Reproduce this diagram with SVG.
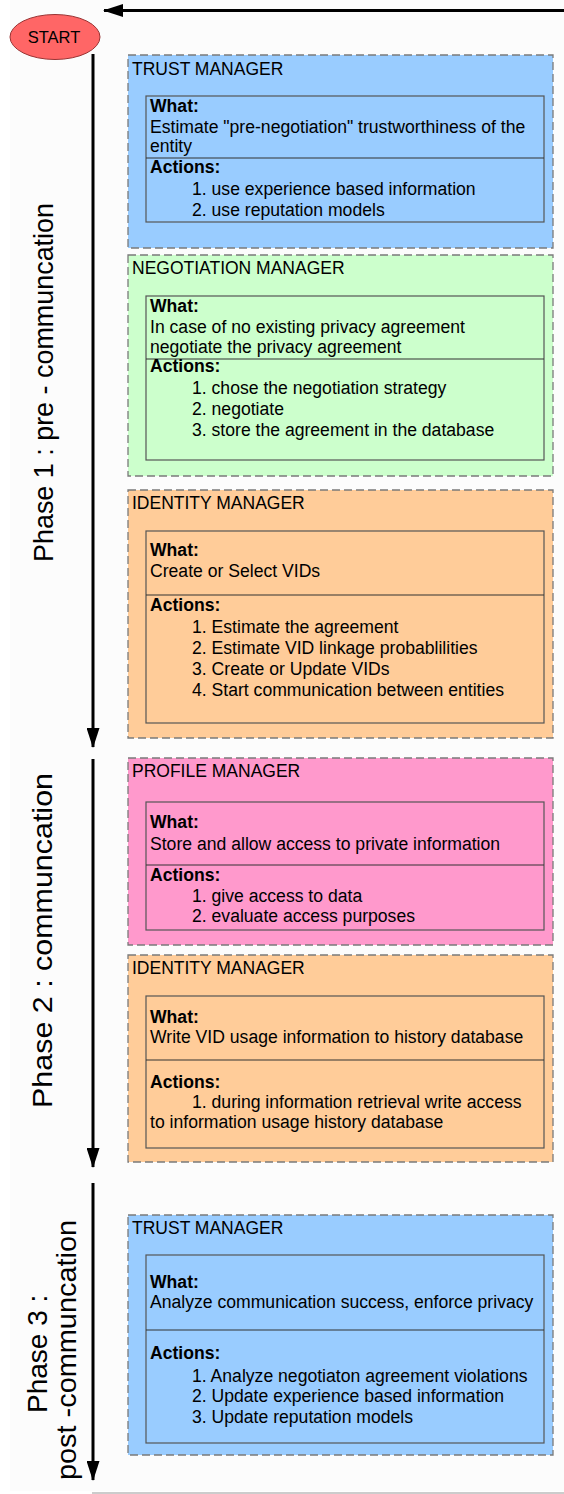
<svg xmlns="http://www.w3.org/2000/svg" width="564" height="1494" viewBox="0 0 564 1494">
  <style>
    .outer { stroke: #7a7a7a; stroke-width: 1.3; stroke-dasharray: 8 4; }
    .inner { fill: none; stroke: #555; stroke-width: 1.2; }
    .div { stroke: #333; stroke-width: 1.2; }
    .trust { fill: #99ccff; }
    .nego { fill: #ccffcc; }
    .ident { fill: #ffcc99; }
    .prof { fill: #ff99cc; }
    text { font-family: "Liberation Sans", Arial, sans-serif; fill: #000; }
    .title { font-size: 17.5px; }
    .body { font-size: 17.6px; }
    .bold { font-size: 17.6px; font-weight: bold; }
    .phase { font-size: 28px; }
    .conn { stroke: #000; stroke-width: 3; fill: none; }
  </style>
  <defs>
    <marker id="head" markerUnits="userSpaceOnUse" markerWidth="20" markerHeight="13" refX="19" refY="6.5" orient="auto">
      <path d="M0,0 L20,6.5 L0,13 z" fill="#000"/>
    </marker>
  </defs>

  <!-- page background -->
  <rect x="0" y="0" width="564" height="1494" fill="#ffffff"/>
  <rect x="10" y="0" width="554" height="1491" fill="#fcfcfc"/>
  <line x1="92" y1="1493" x2="564" y2="1493" stroke="#bbbbbb" stroke-width="1.5"/>

  <!-- flow connectors -->
  <g id="connectors">
    <line class="conn" x1="564" y1="10.5" x2="104" y2="10.5" marker-end="url(#head)"/>
    <line class="conn" x1="93" y1="54" x2="93" y2="747" marker-end="url(#head)"/>
    <line class="conn" x1="93" y1="759" x2="93" y2="1167" marker-end="url(#head)"/>
    <line class="conn" x1="93" y1="1183" x2="93" y2="1480" marker-end="url(#head)"/>
  </g>

  <!-- start node -->
  <g id="start">
    <ellipse cx="55" cy="37" rx="45" ry="22.5" fill="#ff6666" stroke="#993333" stroke-width="1"/>
    <text x="54" y="43" text-anchor="middle" style="font-size:16.5px">START</text>
  </g>

  <!-- phase labels -->
  <g id="phase1-label">
    <text class="phase" transform="translate(53,562) rotate(-90)" textLength="359" lengthAdjust="spacingAndGlyphs">Phase 1 : pre - communcation</text>
  </g>
  <g id="phase2-label">
    <text class="phase" transform="translate(52,1108) rotate(-90)" textLength="335" lengthAdjust="spacingAndGlyphs">Phase 2 : communcation</text>
  </g>
  <g id="phase3-label">
    <text class="phase" transform="translate(47,1413) rotate(-90)">Phase 3 :</text>
    <text class="phase" transform="translate(76,1480) rotate(-90)" textLength="260" lengthAdjust="spacingAndGlyphs">post -communcation</text>
  </g>

  <!-- phase 1: trust manager -->
  <g id="trust-manager-1">
    <rect class="outer trust" x="128" y="55" width="425" height="193"/>
    <text class="title" x="132" y="75">TRUST MANAGER</text>
    <rect class="inner" x="146" y="96" width="398" height="126"/>
    <line class="div" x1="146" y1="158" x2="544" y2="158"/>
    <text class="bold" x="150" y="112">What:</text>
    <text class="body" x="150" y="133">Estimate "pre-negotiation" trustworthiness of the</text>
    <text class="body" x="150" y="152">entity</text>
    <text class="bold" x="150" y="173">Actions:</text>
    <text class="body" x="192" y="195">1. use experience based information</text>
    <text class="body" x="192" y="216">2. use reputation models</text>
  </g>

  <!-- phase 1: negotiation manager -->
  <g id="negotiation-manager">
    <rect class="outer nego" x="128" y="255" width="425" height="221"/>
    <text class="title" x="132" y="274">NEGOTIATION MANAGER</text>
    <rect class="inner" x="146" y="296" width="398" height="164"/>
    <line class="div" x1="146" y1="359" x2="544" y2="359"/>
    <text class="bold" x="150" y="312">What:</text>
    <text class="body" x="150" y="333">In case of no existing privacy agreement</text>
    <text class="body" x="150" y="353">negotiate the privacy agreement</text>
    <text class="bold" x="150" y="372">Actions:</text>
    <text class="body" x="192" y="394">1. chose the negotiation strategy</text>
    <text class="body" x="192" y="415">2. negotiate</text>
    <text class="body" x="192" y="436">3. store the agreement in the database</text>
  </g>

  <!-- phase 1: identity manager -->
  <g id="identity-manager-1">
    <rect class="outer ident" x="128" y="490" width="425" height="248"/>
    <text class="title" x="132" y="509">IDENTITY MANAGER</text>
    <rect class="inner" x="146" y="531" width="398" height="192"/>
    <line class="div" x1="146" y1="595" x2="544" y2="595"/>
    <text class="bold" x="150" y="556">What:</text>
    <text class="body" x="150" y="577">Create or Select VIDs</text>
    <text class="bold" x="150" y="611">Actions:</text>
    <text class="body" x="192" y="633">1. Estimate the agreement</text>
    <text class="body" x="192" y="654">2. Estimate VID linkage probablilities</text>
    <text class="body" x="192" y="675">3. Create or Update VIDs</text>
    <text class="body" x="192" y="696">4. Start communication between entities</text>
  </g>

  <!-- phase 2: profile manager -->
  <g id="profile-manager">
    <rect class="outer prof" x="128" y="758" width="425" height="187"/>
    <text class="title" x="132" y="777">PROFILE MANAGER</text>
    <rect class="inner" x="146" y="802" width="398" height="128"/>
    <line class="div" x1="146" y1="865" x2="544" y2="865"/>
    <text class="bold" x="150" y="828">What:</text>
    <text class="body" x="150" y="850">Store and allow access to private information</text>
    <text class="bold" x="150" y="881">Actions:</text>
    <text class="body" x="192" y="902">1. give access to data</text>
    <text class="body" x="192" y="922">2. evaluate access purposes</text>
  </g>

  <!-- phase 2: identity manager -->
  <g id="identity-manager-2">
    <rect class="outer ident" x="128" y="955" width="425" height="207"/>
    <text class="title" x="132" y="974">IDENTITY MANAGER</text>
    <rect class="inner" x="146" y="996" width="398" height="152"/>
    <line class="div" x1="146" y1="1060" x2="544" y2="1060"/>
    <text class="bold" x="150" y="1023">What:</text>
    <text class="body" x="150" y="1043">Write VID usage information to history database</text>
    <text class="bold" x="150" y="1088">Actions:</text>
    <text class="body" x="192" y="1108">1. during information retrieval write access</text>
    <text class="body" x="150" y="1128">to information usage history database</text>
  </g>

  <!-- phase 3: trust manager -->
  <g id="trust-manager-2">
    <rect class="outer trust" x="128" y="1215" width="425" height="240"/>
    <text class="title" x="132" y="1234">TRUST MANAGER</text>
    <rect class="inner" x="146" y="1255" width="398" height="188"/>
    <line class="div" x1="146" y1="1330" x2="544" y2="1330"/>
    <text class="bold" x="150" y="1288">What:</text>
    <text class="body" x="150" y="1308">Analyze communication success, enforce privacy</text>
    <text class="bold" x="150" y="1359">Actions:</text>
    <text class="body" x="192" y="1382">1. Analyze negotiaton agreement violations</text>
    <text class="body" x="192" y="1402">2. Update experience based information</text>
    <text class="body" x="192" y="1423">3. Update reputation models</text>
  </g>
</svg>
